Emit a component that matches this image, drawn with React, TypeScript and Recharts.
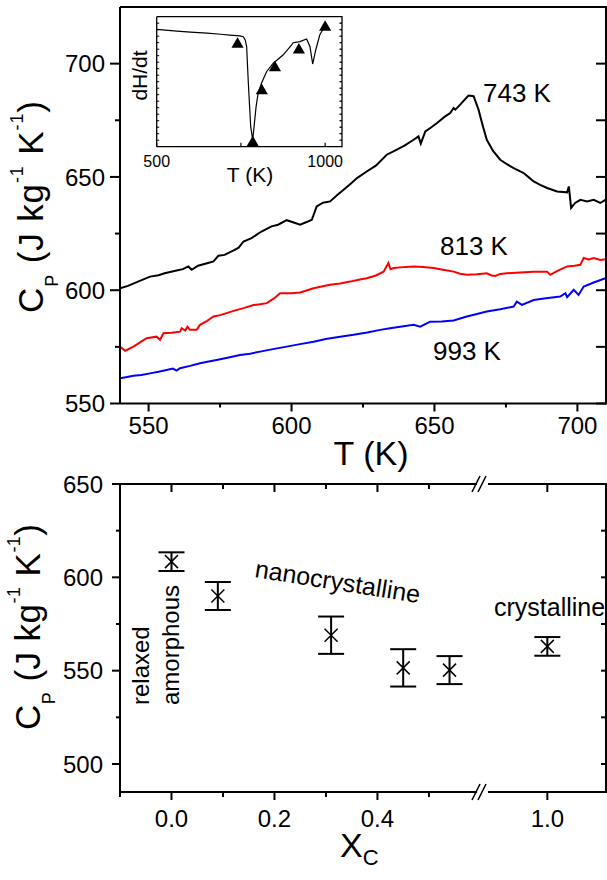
import React from "react";
import {
  LineChart,
  Line,
  ComposedChart,
  Scatter,
  ScatterChart,
  ErrorBar,
  XAxis,
  YAxis,
} from "recharts";

const FONT = '"Liberation Sans", Arial, sans-serif';

// ---- top panel: Cp(T) after annealing at 743 / 813 / 993 K ----
const blackT = [540, 542.8, 546.3, 550.5, 553.5, 555.6, 559.8, 562, 563.9, 565.1, 567.3, 570.8, 572.7, 574.4, 576.6, 580.1, 581.5, 583.2, 586, 587.8, 589.5, 593, 595.3, 598.3, 600.5, 603, 605.5, 607.1, 608.8, 611, 613.5, 616, 618.2, 620.5, 622.9, 626.3, 629.5, 633.3, 636, 639.5, 642.7, 644.4, 645.2, 646.8, 648.8, 650.9, 653.5, 655.5, 656.7, 657.3, 659, 660.5, 661.9, 663.7, 665.4, 666.8, 668.3, 670.5, 673, 675.5, 677.7, 681.2, 683, 684.7, 687, 689.4, 692.9, 696.4, 697, 697.8, 699.2, 701, 703.4, 705.7, 708, 709.8];
const blackCp = [600.9, 601.9, 603.8, 606, 606.6, 607.5, 608.7, 609.3, 610.5, 609, 610.8, 612, 612.7, 615.2, 615.6, 617.8, 618.8, 621.5, 623, 624.5, 625.9, 628.2, 628.9, 630.9, 630, 628.9, 630.2, 631.1, 637, 638.6, 639.2, 642, 644.3, 646.8, 649.5, 652.4, 655, 659.8, 661.5, 663.8, 666.4, 667.9, 664.7, 670.1, 671.8, 673.8, 676.5, 678.2, 680.4, 679.7, 681.9, 684, 685.9, 685.6, 679.7, 673, 666.4, 661.5, 657.6, 655.5, 653.9, 651.7, 649.8, 648, 646.5, 645.1, 643.6, 643.2, 645.8, 636.3, 638.5, 639.9, 639.2, 639.9, 638.5, 639.9];

const redT = [540, 541.8, 544.7, 547, 549.3, 552.8, 554, 555.2, 558, 561, 561.6, 562.8, 563.6, 564.5, 566.8, 568, 570.5, 572.7, 575, 577.3, 580, 583.2, 586.7, 589, 591.3, 594, 596, 600, 603, 605.5, 607.7, 610.5, 613.5, 617, 620.5, 623.5, 626.3, 629.5, 632.2, 633.9, 634.6, 635.7, 640, 642.7, 646, 649.7, 653, 656.7, 659, 661.3, 665, 668.3, 670, 671.3, 673, 675.3, 680, 684.7, 689.4, 690.5, 693, 696.4, 699, 701, 702.2, 704, 705.7, 708, 709.8];
const redCp = [575.1, 573.3, 575.1, 577, 578.8, 579.5, 578.1, 581, 581.2, 581.7, 583.2, 582.2, 583.9, 582.5, 582.5, 584.7, 586.5, 588.4, 589, 589.9, 591, 592.1, 593.5, 593.8, 594.3, 596.5, 598.7, 598.7, 599, 600, 600.9, 601.6, 602.4, 603, 603.8, 604.6, 605.3, 606.5, 608.2, 612, 609.3, 609.8, 610.3, 610.5, 610.2, 609.8, 609, 608.2, 607.3, 606.8, 607, 607.5, 606.5, 606.3, 607.2, 607.5, 607.8, 608.2, 608.2, 606.8, 608.5, 610.5, 610.8, 611.2, 614.2, 613.6, 614.2, 613.3, 613.7];

const blueT = [540, 542, 544.7, 547.5, 550.5, 553.5, 556.3, 558.5, 559.8, 561, 564.5, 568, 571, 573.8, 578, 582, 585.5, 589, 593.5, 598.3, 603, 607.7, 612, 617, 621.7, 626.5, 631, 634.5, 638, 642.7, 645, 648.5, 652.5, 656.7, 661.3, 664.5, 668.3, 673, 677.7, 678.8, 680.6, 684.7, 689, 694, 695.8, 696.4, 698.7, 700.4, 702.2, 705.7, 709.8];
const blueCp = [561.1, 561.6, 562.2, 562.6, 563.3, 564, 564.8, 565.4, 564.5, 565.6, 566.6, 567.8, 568.5, 569.2, 570.3, 571.4, 572, 572.9, 574, 575.1, 576.2, 577.3, 578.5, 579.5, 580.3, 581.3, 582.5, 583.2, 583.9, 584.7, 583.9, 586.1, 586.2, 586.6, 588.4, 589.4, 590.6, 591.6, 592.8, 595, 593.5, 595.7, 596.5, 597.2, 598.7, 596.9, 600.2, 597.9, 601.6, 603.4, 605.3];

const TOP_X: [number, number] = [540, 710];
const TOP_Y: [number, number] = [550, 725];
const topTicks = [550, 575, 600, 625, 650, 675, 700];
const topMajor = [550, 600, 650, 700];
const topXTicks = [550, 575, 600, 625, 650, 675, 700];

// ---- inset: DSC trace with annealing temperatures ----
const insetT = [500, 534, 560, 600, 650, 690, 717, 747, 757, 763, 767, 772, 779, 785, 789, 795, 801, 811, 826, 846, 875, 900, 905, 925, 945, 955, 963, 972, 984, 999];
const insetDH = [90.3, 89.5, 88.9, 88.2, 87.3, 86.5, 85.9, 85.2, 84.6, 82, 76.9, 48.8, 15.4, 5.2, 15.4, 30.8, 41.1, 48.8, 57.7, 64.2, 70.5, 78.2, 80, 80.8, 82.8, 76.9, 63.6, 74.4, 85.9, 92.8];
const triT = [740, 785, 812, 851, 922, 1000];
const triDH = [78.8, 3.1, 43, 60.8, 74.4, 91.8];
const IN_X: [number, number] = [500, 1050];
const IN_Y: [number, number] = [0, 100];
const insetXTicks = [500, 750, 1000];
const insetXMajor = [500, 1000];
const insetYTicks = [5, 10, 15, 20, 25, 30, 35, 40, 45, 50, 55, 60, 65, 70, 75, 80, 85, 90, 95];

// ---- bottom panel: Cp vs crystalline fraction ----
const xc = [0, 0.09, 0.31, 0.45, 0.54, 1.0];
const cpX = [608.4, 590, 569, 551.5, 550.3, 563];
const cpErr = [5, 7.5, 10, 10, 7.5, 5];
const BREAK_AT = 0.605;
const BOT_XL: [number, number] = [-0.1, BREAK_AT];
const BOT_XR: [number, number] = [0.875, 1.114];
const BOT_Y: [number, number] = [485, 650];
const botYTicks = [500, 525, 550, 575, 600, 625, 650];
const botYMajor = [500, 550, 600, 650];
const botXTicksL = [-0.1, 0, 0.1, 0.2, 0.3, 0.4, 0.5];
const botXMajorL = [0, 0.2, 0.4];
const botXTicksR = [1.0];

const zip = (xs: number[], ys: number[]) => xs.map((t, i) => ({ t, v: ys[i] }));
const pts = xc.map((x, i) => ({ x, y: cpX[i], err: cpErr[i] }));
const ptsL = pts.filter((p) => p.x < BREAK_AT);
const ptsR = pts.filter((p) => p.x >= BREAK_AT);

// plot boxes (page pixels)
const TOP_BOX = { left: 120, right: 606, top: 7, bottom: 403.5 };
const IN_BOX = { left: 156.7, right: 342, top: 16.7, bottom: 146.7 };
const BOT_BOX = { left: 120, right: 606, top: 484, bottom: 792 };

// right-hand border, hung from the last tick of the top axis
type Frame = { at: number; h: number; yDom: [number, number]; yTicks: number[]; len: number; sw: number };

type TickOpt = {
  side: "left" | "top" | "bottom";
  major: number[];
  len: number;
  minor: number;
  out: boolean;
  sw?: number;
  label?: boolean;
  fs?: number;
  gap?: number;
  fmt?: (v: number) => string;
  frame?: Frame;
};

const makeTick = (o: TickOpt) => (p: any) => {
  const v = Number(p.payload.value);
  const { x, y } = p;
  const sw = o.sw ?? 2;
  if (o.frame && Math.abs(v - o.frame.at) < 1e-9) {
    const f = o.frame;
    const yOf = (t: number) => y + ((f.yDom[1] - t) / (f.yDom[1] - f.yDom[0])) * f.h;
    return (
      <g>
        <line x1={x} y1={y - f.sw / 2} x2={x} y2={y + f.h + f.sw / 2} stroke="#000" strokeWidth={f.sw} />
        {f.yTicks.map((t) => (
          <line key={t} x1={x - f.len} y1={yOf(t)} x2={x} y2={yOf(t)} stroke="#000" strokeWidth={f.sw} />
        ))}
      </g>
    );
  }
  const isMajor = o.major.some((m) => Math.abs(m - v) < 1e-9);
  const L = isMajor ? o.len : o.minor;
  const d = o.out ? 1 : -1;
  const fmt = o.fmt ?? ((n: number) => String(n));
  if (o.side === "left") {
    return (
      <g>
        <line x1={x} y1={y} x2={x - d * L} y2={y} stroke="#000" strokeWidth={sw} />
        {o.label && isMajor && (
          <text x={x - (o.gap ?? 0)} y={y} dy="0.36em" textAnchor="end" fontSize={o.fs} fontFamily={FONT} fill="#000">
            {fmt(v)}
          </text>
        )}
      </g>
    );
  }
  const s = o.side === "top" ? -d : d;
  if (L <= 0) return <g />;
  return (
    <g>
      <line x1={x} y1={y} x2={x} y2={y + s * L} stroke="#000" strokeWidth={sw} />
      {o.label && isMajor && (
        <text x={x} y={y + (o.gap ?? 0)} textAnchor="middle" fontSize={o.fs} fontFamily={FONT} fill="#000">
          {fmt(v)}
        </text>
      )}
    </g>
  );
};

const XMark = (p: any) => {
  const { cx, cy } = p;
  if (cx == null || cy == null) return <g />;
  const s = 6.5;
  return (
    <g>
      <line x1={cx - s} y1={cy - s} x2={cx + s} y2={cy + s} stroke="#000" strokeWidth={1.5} />
      <line x1={cx - s} y1={cy + s} x2={cx + s} y2={cy - s} stroke="#000" strokeWidth={1.5} />
    </g>
  );
};

const AX = { stroke: "#000", strokeWidth: 2 };
const AXI = { stroke: "#000", strokeWidth: 1.3 };

function CpTitle({ x, y, len }: { x: number; y: number; len: number }) {
  return (
    <text
      x={x}
      y={y}
      transform={`rotate(-90 ${x} ${y})`}
      textAnchor="middle"
      fontSize={35}
      fontFamily={FONT}
      fill="#000"
      textLength={len}
      lengthAdjust="spacing"
    >
      C<tspan dy={15} fontSize={18}>P</tspan>
      <tspan dy={-15}>{" (J kg"}</tspan>
      <tspan dy={-20} fontSize={18}>-1</tspan>
      <tspan dy={20}>{" K"}</tspan>
      <tspan dy={-20} fontSize={18}>-1</tspan>
      <tspan dy={20}>{")"}</tspan>
    </text>
  );
}

function Overlay() {
  return (
    <svg width={607} height={880} style={{ position: "absolute", left: 0, top: 0, pointerEvents: "none" }} fontFamily={FONT}>
      <CpTitle x={43} y={207} len={212} />
      <text x={371} y={465} textAnchor="middle" fontSize={34}>T (K)</text>
      <text x={483} y={101.5} fontSize={26}>743 K</text>
      <text x={440} y={255} fontSize={26}>813 K</text>
      <text x={433} y={360} fontSize={26}>993 K</text>

      <text x={146.5} y={75.5} transform="rotate(-90 146.5 75.5)" textAnchor="middle" fontSize={21}>dH/dt</text>
      <text x={250} y={182} textAnchor="middle" fontSize={21}>T (K)</text>

      <CpTitle x={40} y={627} len={206} />
      <text x={340} y={857} fontSize={34}>
        X<tspan dy={8} fontSize={22}>C</tspan>
      </text>
      <text x={149} y={705} transform="rotate(-90 149 705)" fontSize={24}>relaxed</text>
      <text x={179} y={705} transform="rotate(-90 179 705)" fontSize={24}>amorphous</text>
      <text x={254} y={577} transform="rotate(9 254 577)" fontSize={25}>nanocrystalline</text>
      <text x={494} y={616} fontSize={25}>crystalline</text>

      {[BOT_BOX.top, BOT_BOX.bottom].map((y) => (
        <g key={y}>
          <rect x={477} y={y - 3} width={11} height={6} fill="#fff" />
          <line x1={472} y1={y + 8} x2={480} y2={y - 8} stroke="#000" strokeWidth={1.5} />
          <line x1={478} y1={y + 8} x2={486} y2={y - 8} stroke="#000" strokeWidth={1.5} />
        </g>
      ))}
    </svg>
  );
}

export default function App() {
  const tickFmt1 = (v: number) => v.toFixed(1);
  const topFrame: Frame = { at: TOP_X[1], h: TOP_BOX.bottom - TOP_BOX.top, yDom: TOP_Y, yTicks: topTicks, len: 10, sw: 2 };
  const inFrame: Frame = { at: IN_X[1], h: IN_BOX.bottom - IN_BOX.top, yDom: IN_Y, yTicks: insetYTicks, len: 2.5, sw: 1.3 };
  const botFrame: Frame = { at: BOT_XR[1], h: BOT_BOX.bottom - BOT_BOX.top, yDom: BOT_Y, yTicks: botYTicks, len: 5, sw: 2 };
  return (
    <div style={{ position: "absolute", left: 0, top: 0, width: 607, height: 880, background: "#fff" }}>
      {/* top panel */}
      <div style={{ position: "absolute", left: 0, top: 0 }}>
        <LineChart width={607} height={480} margin={{ top: TOP_BOX.top - 1, right: 607 - TOP_BOX.right, bottom: 0, left: 0 }}>
          <XAxis
            dataKey="t"
            type="number"
            domain={TOP_X}
            allowDataOverflow
            ticks={topXTicks}
            interval={0}
            height={480 - TOP_BOX.bottom}
            tickSize={0}
            tickMargin={0}
            tickLine={false}
            axisLine={AX}
            tick={makeTick({ side: "bottom", major: topMajor, len: 8, minor: 4, out: true, label: true, fs: 24, gap: 30 })}
          />
          <XAxis
            xAxisId="top"
            dataKey="t"
            orientation="top"
            type="number"
            domain={TOP_X}
            allowDataOverflow
            ticks={[TOP_X[1]]}
            interval={0}
            height={1}
            tickSize={0}
            tickMargin={0}
            tickLine={false}
            axisLine={AX}
            tick={makeTick({ side: "top", major: [], len: 0, minor: 0, out: false, frame: topFrame })}
          />
          <YAxis
            dataKey="v"
            type="number"
            domain={TOP_Y}
            allowDataOverflow
            ticks={topTicks}
            interval={0}
            width={TOP_BOX.left}
            tickSize={0}
            tickMargin={0}
            tickLine={false}
            axisLine={AX}
            tick={makeTick({ side: "left", major: topMajor, len: 10, minor: 5, out: true, label: true, fs: 24, gap: 15 })}
          />
          <Line data={zip(blackT, blackCp)} dataKey="v" stroke="#000" strokeWidth={2} dot={false} isAnimationActive={false} />
          <Line data={zip(redT, redCp)} xAxisId="top" dataKey="v" stroke="#ff0000" strokeWidth={2} dot={false} isAnimationActive={false} />
          <Line data={zip(blueT, blueCp)} dataKey="v" stroke="#0000ff" strokeWidth={2} dot={false} isAnimationActive={false} />
        </LineChart>
      </div>

      {/* inset */}
      <div style={{ position: "absolute", left: 100, top: 0 }}>
        <ComposedChart width={250} height={200} margin={{ top: IN_BOX.top - 1, right: 350 - IN_BOX.right, bottom: 0, left: 0 }}>
          <XAxis
            dataKey="t"
            type="number"
            domain={IN_X}
            allowDataOverflow
            ticks={insetXTicks}
            interval={0}
            height={200 - IN_BOX.bottom}
            tickSize={0}
            tickMargin={0}
            tickLine={false}
            axisLine={AXI}
            tick={makeTick({ side: "bottom", major: insetXMajor, len: 4, minor: 4, out: false, sw: 1.2, label: true, fs: 16, gap: 20 })}
          />
          <XAxis
            xAxisId="top"
            dataKey="t"
            orientation="top"
            type="number"
            domain={IN_X}
            allowDataOverflow
            ticks={[IN_X[1]]}
            interval={0}
            height={1}
            tickSize={0}
            tickMargin={0}
            tickLine={false}
            axisLine={AXI}
            tick={makeTick({ side: "top", major: [], len: 0, minor: 0, out: false, frame: inFrame })}
          />
          <YAxis
            dataKey="v"
            type="number"
            domain={IN_Y}
            allowDataOverflow
            ticks={insetYTicks}
            interval={0}
            width={IN_BOX.left - 100}
            tickSize={0}
            tickMargin={0}
            tickLine={false}
            axisLine={AXI}
            tick={makeTick({ side: "left", major: [], len: 2.5, minor: 2.5, out: false, sw: 1 })}
          />
          <Line data={zip(insetT, insetDH)} dataKey="v" stroke="#000" strokeWidth={1.2} dot={false} isAnimationActive={false} />
          <Scatter data={zip(triT, triDH)} xAxisId="top" dataKey="v" shape="triangle" fill="#000" size={60} isAnimationActive={false} />
        </ComposedChart>
      </div>

      {/* bottom panel, left of the axis break */}
      <div style={{ position: "absolute", left: 0, top: 460 }}>
        <ScatterChart width={483} height={420} margin={{ top: BOT_BOX.top - 460 - 1, right: 0, bottom: 0, left: 0 }}>
          <XAxis
            dataKey="x"
            type="number"
            domain={BOT_XL}
            allowDataOverflow
            ticks={botXTicksL}
            interval={0}
            height={880 - BOT_BOX.bottom}
            tickSize={0}
            tickMargin={0}
            tickLine={false}
            axisLine={AX}
            tick={makeTick({ side: "bottom", major: botXMajorL, len: 8, minor: 5, out: true, label: true, fs: 24, gap: 35, fmt: tickFmt1 })}
          />
          <XAxis
            xAxisId="top"
            dataKey="x"
            orientation="top"
            type="number"
            domain={BOT_XL}
            allowDataOverflow
            ticks={botXTicksL}
            interval={0}
            height={1}
            tickSize={0}
            tickMargin={0}
            tickLine={false}
            axisLine={AX}
            tick={makeTick({ side: "top", major: botXMajorL, len: 8, minor: 5, out: false })}
          />
          <YAxis
            dataKey="y"
            type="number"
            domain={BOT_Y}
            allowDataOverflow
            ticks={botYTicks}
            interval={0}
            width={BOT_BOX.left}
            tickSize={0}
            tickMargin={0}
            tickLine={false}
            axisLine={AX}
            tick={makeTick({ side: "left", major: botYMajor, len: 8, minor: 4, out: true, label: true, fs: 24, gap: 17 })}
          />
          <Scatter data={ptsL} shape={XMark} isAnimationActive={false}>
            <ErrorBar dataKey="err" direction="y" width={13} stroke="#000" strokeWidth={2} isAnimationActive={false} />
          </Scatter>
          <Scatter data={ptsL} xAxisId="top" shape={() => <g />} isAnimationActive={false} />
        </ScatterChart>
      </div>

      {/* bottom panel, right of the axis break */}
      <div style={{ position: "absolute", left: 483, top: 460 }}>
        <ScatterChart width={124} height={420} margin={{ top: BOT_BOX.top - 460 - 1, right: 607 - BOT_BOX.right, bottom: 0, left: 0 }}>
          <XAxis
            dataKey="x"
            type="number"
            domain={BOT_XR}
            allowDataOverflow
            ticks={botXTicksR}
            interval={0}
            height={880 - BOT_BOX.bottom}
            tickSize={0}
            tickMargin={0}
            tickLine={false}
            axisLine={AX}
            tick={makeTick({ side: "bottom", major: botXTicksR, len: 8, minor: 5, out: true, label: true, fs: 24, gap: 35, fmt: tickFmt1 })}
          />
          <XAxis
            xAxisId="top"
            dataKey="x"
            orientation="top"
            type="number"
            domain={BOT_XR}
            allowDataOverflow
            ticks={[...botXTicksR, BOT_XR[1]]}
            interval={0}
            height={1}
            tickSize={0}
            tickMargin={0}
            tickLine={false}
            axisLine={AX}
            tick={makeTick({ side: "top", major: botXTicksR, len: 8, minor: 5, out: false, frame: botFrame })}
          />
          <YAxis dataKey="y" type="number" domain={BOT_Y} allowDataOverflow width={0} hide />
          <Scatter data={ptsR} shape={XMark} isAnimationActive={false}>
            <ErrorBar dataKey="err" direction="y" width={13} stroke="#000" strokeWidth={2} isAnimationActive={false} />
          </Scatter>
          <Scatter data={ptsR} xAxisId="top" shape={() => <g />} isAnimationActive={false} />
        </ScatterChart>
      </div>

      <Overlay />
    </div>
  );
}
